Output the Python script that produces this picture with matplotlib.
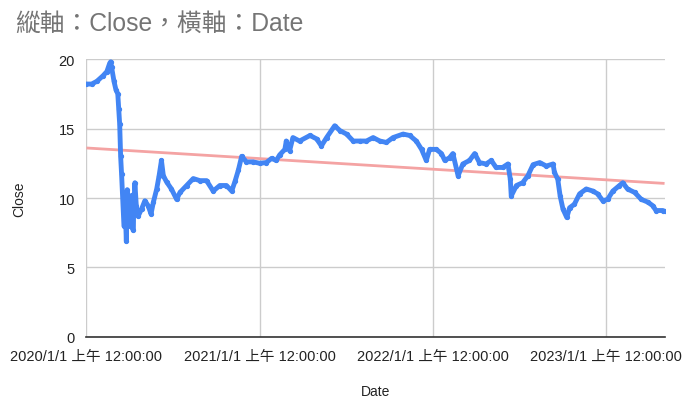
import matplotlib
matplotlib.use("Agg")
import matplotlib.pyplot as plt
import pandas as pd

plt.rcParams["font.family"] = ["Liberation Sans", "Noto Sans CJK TC", "DejaVu Sans"]

# ---------------------------------------------------------------------------
# data
# ---------------------------------------------------------------------------
dates = [
    "2020-01-02", "2020-01-13", "2020-01-24", "2020-02-06", "2020-02-14",
    "2020-02-20", "2020-02-22", "2020-02-24", "2020-02-29", "2020-03-04",
    "2020-03-08", "2020-03-10", "2020-03-12", "2020-03-14", "2020-03-16",
    "2020-03-21", "2020-03-25", "2020-03-26", "2020-03-28", "2020-04-02",
    "2020-04-07", "2020-04-09", "2020-04-13", "2020-04-16", "2020-04-20",
    "2020-04-27", "2020-05-04", "2020-05-11", "2020-05-17", "2020-05-22",
    "2020-05-29", "2020-06-03", "2020-06-08", "2020-06-12", "2020-06-19",
    "2020-06-29", "2020-07-10", "2020-07-17", "2020-07-31", "2020-08-14",
    "2020-08-28", "2020-09-11", "2020-09-25", "2020-10-09", "2020-10-23",
    "2020-11-03", "2020-11-10", "2020-11-17", "2020-11-24", "2020-12-04",
    "2020-12-18", "2021-01-01", "2021-01-15", "2021-01-26", "2021-02-05",
    "2021-02-12", "2021-02-23", "2021-02-26", "2021-03-05", "2021-03-12",
    "2021-03-26", "2021-04-17", "2021-05-01", "2021-05-11", "2021-05-22",
    "2021-06-08", "2021-06-19", "2021-07-03", "2021-07-17", "2021-07-31",
    "2021-08-14", "2021-08-28", "2021-09-11", "2021-09-25", "2021-10-09",
    "2021-10-30", "2021-11-13", "2021-11-27", "2021-12-08", "2021-12-18",
    "2021-12-25", "2022-01-08", "2022-01-19", "2022-01-26", "2022-02-05",
    "2022-02-12", "2022-02-23", "2022-03-05", "2022-03-19", "2022-03-30",
    "2022-04-09", "2022-04-23", "2022-05-04", "2022-05-14", "2022-05-28",
    "2022-06-08", "2022-06-13", "2022-06-15", "2022-06-26", "2022-07-09",
    "2022-07-20", "2022-07-31", "2022-08-14", "2022-08-28", "2022-09-11",
    "2022-09-14", "2022-09-21", "2022-09-26", "2022-10-02", "2022-10-10",
    "2022-10-16", "2022-10-26", "2022-11-06", "2022-11-20", "2022-12-04",
    "2022-12-14", "2022-12-25", "2023-01-04", "2023-01-15", "2023-01-29",
    "2023-02-05", "2023-02-15", "2023-03-02", "2023-03-16", "2023-03-30",
    "2023-04-09", "2023-04-16", "2023-04-30", "2023-05-04",
]
close = [
    18.2, 18.2, 18.4, 18.8, 19.1,
    19.7, 19.8, 19.4, 18.4, 17.8,
    17.5, 16.4, 15.3, 13.0, 11.7,
    8.0, 7.9, 6.9, 10.6, 8.0,
    10.2, 7.7, 11.1, 9.45, 8.7,
    9.2, 9.8, 9.45, 8.85, 9.7,
    10.65, 11.6, 12.7, 11.6, 11.15,
    10.65, 9.9, 10.4, 10.9, 11.4,
    11.25, 11.25, 10.5, 10.9, 10.9,
    10.5, 11.2, 12.0, 13.0, 12.6,
    12.6, 12.5, 12.55, 12.85, 12.7,
    13.1, 13.5, 14.1, 13.4, 14.35,
    14.1, 14.5, 14.25, 13.75, 14.35,
    15.2, 14.85, 14.6, 14.1, 14.1,
    14.1, 14.35, 14.1, 14.0, 14.35,
    14.6, 14.5, 14.1, 13.5, 12.7,
    13.5, 13.5, 13.2, 12.7, 12.9,
    13.2, 11.6, 12.45, 12.7, 13.2,
    12.55, 12.45, 12.7, 12.2, 12.2,
    12.45, 11.35, 10.15, 10.9, 11.1,
    11.6, 12.4, 12.55, 12.3, 12.45,
    11.85, 11.35, 10.15, 9.2, 8.6,
    9.3, 9.55, 10.3, 10.65, 10.5,
    10.3, 9.8, 9.9, 10.5, 10.9,
    11.1, 10.65, 10.4, 9.9, 9.7,
    9.45, 9.1, 9.1, 9.05,
]

# linear trendline end values
trend_start = 13.6
trend_end = 11.05

x_dates = pd.to_datetime(dates)
year_ticks = pd.to_datetime(["2020-01-01", "2021-01-01", "2022-01-01", "2023-01-01"])
tick_labels = [f"{d.year}/1/1 上午 12:00:00" for d in year_ticks]

# ---------------------------------------------------------------------------
# figure
# ---------------------------------------------------------------------------
fig = plt.figure(figsize=(6.89, 4.14), dpi=100)
ax = fig.add_axes([0.1248, 0.1836, 0.8404, 0.6714])

ax.plot([x_dates[0], x_dates[-1]], [trend_start, trend_end],
        color="#f4a3a3", lw=2, zorder=2, solid_capstyle="butt")
ax.plot(x_dates, close, color="#4285f4", lw=3.5, marker="o", ms=2.8,
        zorder=3, solid_joinstyle="round")

ax.set_xlim(pd.Timestamp("2020-01-01"), pd.Timestamp("2023-05-05"))
ax.set_ylim(0, 20)
ax.set_yticks([0, 5, 10, 15, 20])
ax.set_xticks(year_ticks)
ax.set_xticklabels(tick_labels)

ax.grid(True, color="#cccccc", lw=1)
ax.set_axisbelow(True)
for side in ("top", "right", "left"):
    ax.spines[side].set_visible(False)
ax.spines["bottom"].set_color("#333333")
ax.spines["bottom"].set_linewidth(1.2)
ax.spines["bottom"].set_zorder(4)
ax.tick_params(length=0, labelsize=10.5, colors="#222222")
ax.tick_params(axis="x", pad=9)
ax.tick_params(axis="y", pad=8)

ax.set_ylabel("Close", fontsize=10, color="#222222", labelpad=23)
ax.set_xlabel("Date", fontsize=10, color="#222222", labelpad=15)

fig.text(0.022, 0.942, "縱軸：Close，橫軸：Date", fontsize=17.8,
         color="#757575", va="center", ha="left")

fig.savefig("out.png", dpi=100)
